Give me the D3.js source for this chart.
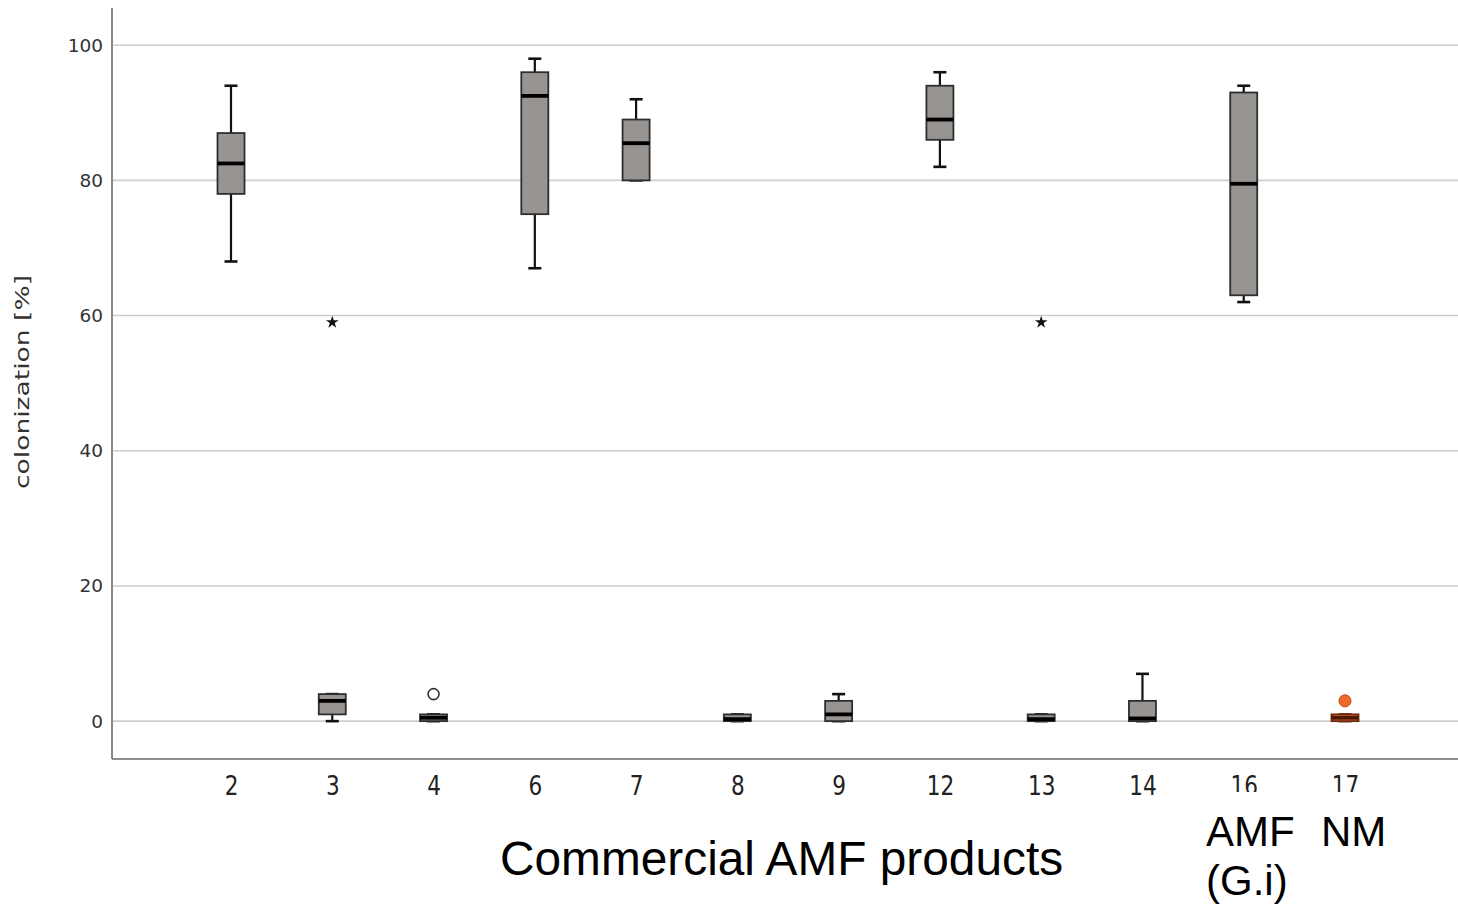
<!DOCTYPE html>
<html>
<head>
<meta charset="utf-8">
<script src="https://cdn.jsdelivr.net/npm/d3@7/dist/d3.min.js"></script>
<style>
  html, body { margin: 0; padding: 0; background: #fff; }
  svg { display: block; }
</style>
</head>
<body>
<svg id="chart" width="1458" height="904"></svg>
<script>
// Colonization [%] per product: five-number summaries and outliers
const categories = ["2", "3", "4", "6", "7", "8", "9", "12", "13", "14", "16", "17"];
const whiskerLow  = [68, 0,   0,   67,  80,   0,   0,   82,  0,   0,   62,  0];
const quartile1   = [78, 1,   0,   75,  80,   0,   0,   86,  0,   0,   63,  0];
const medians     = [82.5, 3, 0.5, 92.5, 85.5, 0.3, 1,  89,  0.3, 0.4, 79.5, 0.5];
const quartile3   = [87, 4,   1,   96,  89,   1,   3,   94,  1,   3,   93,  1];
const whiskerHigh = [94, 4,   1,   98,  92,   1,   4,   96,  1,   7,   94,  1];
const highlighted = ["17"];

// outliers: circles (mild) and stars (extreme)
const outlierCats   = ["4", "17"];
const outlierValues = [4, 3];
const extremeCats   = ["3", "13"];
const extremeValues = [59, 59];

const yTicks = [0, 20, 40, 60, 80, 100];

const svg = d3.select("#chart");
const W = 1458, H = 904;
const plot = { left: 112, right: 1458, top: 8, bottom: 759 };

const y = d3.scaleLinear().domain([-5.6, 105.5]).range([plot.bottom, plot.top]);
const x = d3.scalePoint().domain(categories).range([plot.left + 119, plot.right - 113]);

const boxW = 27, capW = 13;
const gray = "#989492", grayStroke = "#2e2e2e";
const orange = "#ee6a2c", orangeStroke = "#6b2a0e";

// gridlines
svg.append("g")
  .selectAll("line")
  .data(yTicks)
  .join("line")
  .attr("x1", plot.left + 1).attr("x2", plot.right)
  .attr("y1", d => y(d)).attr("y2", d => y(d))
  .attr("stroke", "#cdcdcd").attr("stroke-width", 1.6);

// y axis
const yAxis = d3.axisLeft(y).tickValues(yTicks).tickSize(0).tickPadding(9);
const gy = svg.append("g").attr("transform", `translate(${plot.left},0)`).call(yAxis);
gy.select(".domain").remove();
gy.selectAll("text")
  .attr("font-family", "DejaVu Sans, sans-serif")
  .attr("font-size", 18.5)
  .attr("fill", "#333");

// x axis labels
const xAxis = d3.axisBottom(x).tickSize(0).tickPadding(0);
const gx = svg.append("g").attr("transform", `translate(0,${plot.bottom})`).call(xAxis);
gx.select(".domain").remove();
gx.selectAll(".tick text")
  .attr("font-family", "DejaVu Sans, sans-serif")
  .attr("font-size", 27)
  .attr("fill", "#222")
  .attr("dy", null)
  .attr("y", 36)
  .attr("transform", "scale(0.8,1)")
  .attr("x", 0);

// axis frame lines
svg.append("line")
  .attr("x1", plot.left).attr("x2", plot.left)
  .attr("y1", plot.top).attr("y2", plot.bottom)
  .attr("stroke", "#6a6a6a").attr("stroke-width", 1.6);
svg.append("line")
  .attr("x1", plot.left).attr("x2", plot.right)
  .attr("y1", plot.bottom).attr("y2", plot.bottom)
  .attr("stroke", "#6a6a6a").attr("stroke-width", 1.6);

// boxes
const rows = categories.map((c, i) => ({
  cat: c, lo: whiskerLow[i], q1: quartile1[i], med: medians[i],
  q3: quartile3[i], hi: whiskerHigh[i], hl: highlighted.includes(c)
}));

const g = svg.append("g");
rows.forEach(r => {
  const cx = x(r.cat);
  const fill = r.hl ? orange : gray;
  const stroke = r.hl ? orangeStroke : grayStroke;
  const line = r.hl ? orangeStroke : "#111";
  // whiskers
  g.append("line").attr("x1", cx).attr("x2", cx)
    .attr("y1", y(r.hi)).attr("y2", y(r.q3))
    .attr("stroke", line).attr("stroke-width", 2.2);
  g.append("line").attr("x1", cx).attr("x2", cx)
    .attr("y1", y(r.q1)).attr("y2", y(r.lo))
    .attr("stroke", line).attr("stroke-width", 2.2);
  [r.hi, r.lo].forEach(v => {
    g.append("line").attr("x1", cx - capW / 2).attr("x2", cx + capW / 2)
      .attr("y1", y(v)).attr("y2", y(v))
      .attr("stroke", line).attr("stroke-width", 2.6);
  });
  // box
  g.append("rect")
    .attr("x", cx - boxW / 2).attr("width", boxW)
    .attr("y", y(r.q3)).attr("height", Math.max(y(r.q1) - y(r.q3), 0))
    .attr("fill", fill).attr("stroke", stroke).attr("stroke-width", 1.8);
  // median
  g.append("line").attr("x1", cx - boxW / 2).attr("x2", cx + boxW / 2)
    .attr("y1", y(r.med)).attr("y2", y(r.med))
    .attr("stroke", r.hl ? "#4a1a06" : "#000").attr("stroke-width", 3.8);
});

// mild outliers
outlierCats.forEach((c, i) => {
  const hl = highlighted.includes(c);
  g.append("circle")
    .attr("cx", x(c)).attr("cy", y(outlierValues[i])).attr("r", hl ? 6 : 5.5)
    .attr("fill", hl ? orange : "#fff")
    .attr("stroke", hl ? "#b8461a" : "#333").attr("stroke-width", hl ? 1 : 1.6);
});

// extreme outliers
extremeCats.forEach((c, i) => {
  g.append("path")
    .attr("d", d3.symbol(d3.symbolStar, 50)())
    .attr("transform", `translate(${x(c)},${y(extremeValues[i])})`)
    .attr("fill", "#111");
});

// y axis title
svg.append("text")
  .attr("transform", "translate(29,382) rotate(-90)")
  .attr("text-anchor", "middle")
  .attr("font-family", "DejaVu Sans, sans-serif")
  .attr("font-size", 20)
  .attr("fill", "#333")
  .attr("textLength", 214)
  .attr("lengthAdjust", "spacingAndGlyphs")
  .text("colonization [%]");

// caption area over the last two tick labels
svg.append("rect")
  .attr("x", 1192).attr("y", 792).attr("width", W - 1192).attr("height", H - 792)
  .attr("fill", "#fff");

const caption = svg.append("g")
  .attr("font-family", "Liberation Sans, Arial, sans-serif")
  .attr("fill", "#000");
caption.append("text").attr("x", 500).attr("y", 875).attr("font-size", 47.8)
  .text("Commercial AMF products");
caption.append("text").attr("x", 1206).attr("y", 846).attr("font-size", 42).text("AMF");
caption.append("text").attr("x", 1321).attr("y", 846).attr("font-size", 42).text("NM");
caption.append("text").attr("x", 1206).attr("y", 895).attr("font-size", 42).text("(G.i)");
</script>
</body>
</html>
